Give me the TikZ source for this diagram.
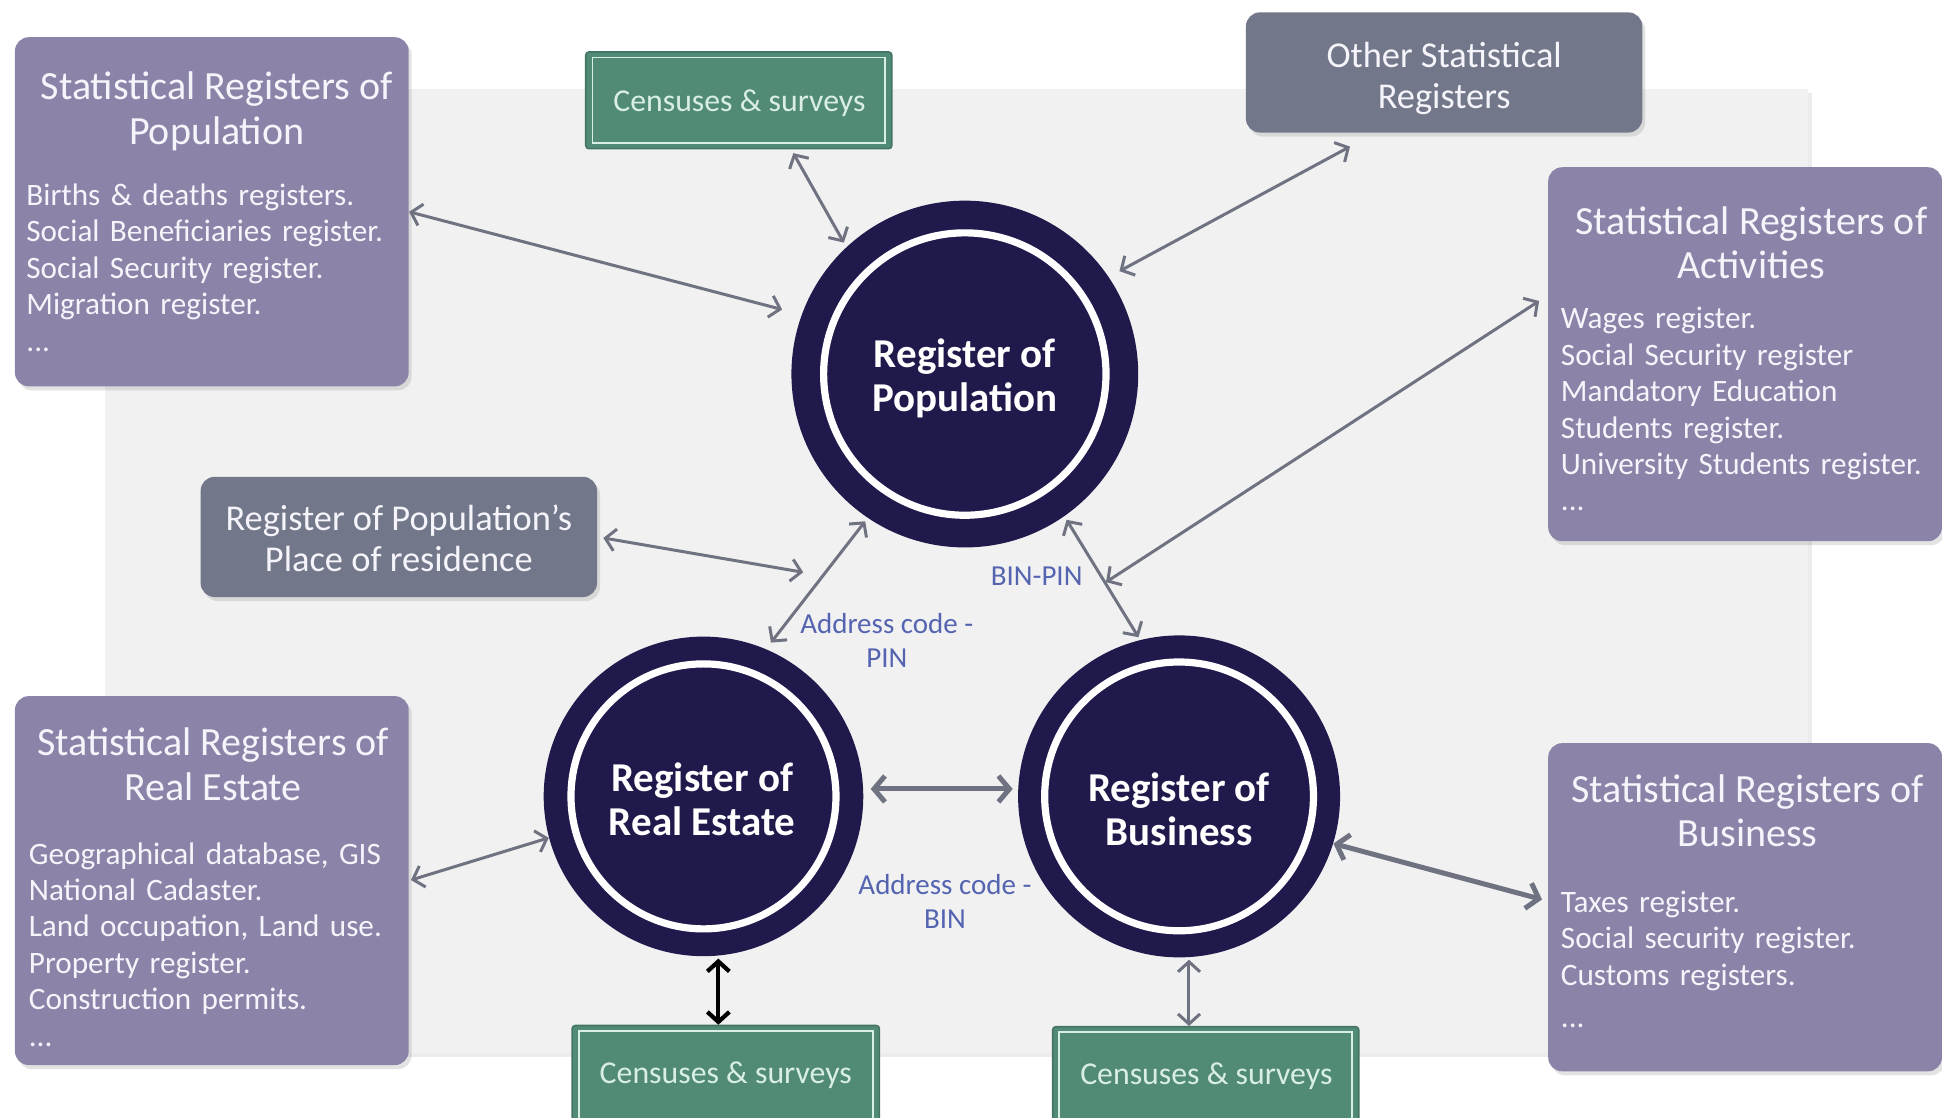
\documentclass[tikz,border=0pt]{standalone}
\usepackage{fontspec}
\setmainfont{Carlito}
\usetikzlibrary{arrows.meta,calc,shadows}
\definecolor{purp}{HTML}{8B83A8}
\definecolor{ptext}{HTML}{F6F4FB}
\definecolor{navy}{HTML}{1F1A4B}
\definecolor{cgreen}{HTML}{518B75}
\definecolor{cline}{HTML}{D9EEE4}
\definecolor{greyb}{HTML}{73778A}
\definecolor{agrey}{HTML}{6F7280}
\definecolor{lblue}{HTML}{5564B0}
\definecolor{panel}{HTML}{F1F1F2}
\begin{document}
\begin{tikzpicture}[x=0.6193pt,y=-0.6193pt,
  pbox/.style={rectangle, rounded corners=7pt, fill=purp, inner sep=0pt,
    drop shadow={opacity=0.22, shadow xshift=1.5pt, shadow yshift=-2pt}},
  gbox/.style={rectangle, rounded corners=7pt, fill=greyb, inner sep=0pt,
    drop shadow={opacity=0.22, shadow xshift=1.5pt, shadow yshift=-2pt}},
  cbox/.style={rectangle, rounded corners=1.5pt, fill=cgreen, draw=cgreen!85!black, line width=0.8pt, inner sep=0pt},
  cinner/.style={draw=cline, line width=0.9pt},
  regc/.style={circle, fill=navy, inner sep=0pt},
  ring/.style={circle, draw=white, line width=3.6pt, inner sep=0pt},
  ttl/.style={text=ptext, align=center, inner sep=0pt, font=\fontsize{20}{22.3}\selectfont},
  itm/.style={text=ptext, align=left, inner sep=0pt, text width=194pt, font=\fontsize{15.6}{18.2}\selectfont},
  gtxt/.style={text=ptext, align=center, inner sep=0pt, font=\fontsize{18.2}{20.5}\selectfont},
  ctxt/.style={text=cline, align=center, inner sep=0pt, font=\fontsize{15.9}{17}\selectfont},
  rtxt/.style={text=white, align=center, inner sep=0pt, font=\bfseries\fontsize{20.5}{22}\selectfont},
  lbl/.style={text=lblue, align=center, inner sep=1pt, font=\fontsize{14.5}{16.8}\selectfont},
  arr/.style={draw=agrey, line width=1.5pt, {Straight Barb[length=5pt,width=11pt]}-{Straight Barb[length=5pt,width=11pt]}},
  tarr/.style={draw=agrey, line width=2.5pt, {Straight Barb[length=5.5pt,width=13pt]}-{Straight Barb[length=5.5pt,width=13pt]}},
  barr/.style={draw=black, line width=2.1pt, {Straight Barb[length=5pt,width=11pt]}-{Straight Barb[length=5pt,width=11pt]}}
]
\useasboundingbox (0,0) rectangle (1568,902);
\fill[white] (0,0) rectangle (1568,902);
\fill[panel, drop shadow={opacity=0.15, shadow xshift=2pt, shadow yshift=-2pt}] (85,72) rectangle (1460,850);

% main registers
\node[regc, minimum size=173.4pt] (pop) at (779,302) {};
\node[ring, minimum size=141.2pt] (popring) at (pop) {};
\node[rtxt] (popt) at (779,305.5) {Register of\\Population};

\node[regc, minimum size=159.8pt] (re) at (568,643) {};
\node[ring, minimum size=132.5pt] (rering) at (re) {};
\node[rtxt] (ret) at (567,645.5) {Register of\\Real Estate};

\node[regc, minimum size=161pt] (bus) at (952,643) {};
\node[ring, minimum size=134.4pt] (busring) at (bus) {};
\node[rtxt] (bust) at (952,653.5) {Register of\\Business};

% purple boxes
\node[pbox, minimum width=196.9pt, minimum height=174.6pt] (srpop) at (171,171) {};
\node[ttl] (srpopt) at (175,90) {Statistical Registers of\\Population};
\node[itm, anchor=west] (srpopi) at (21,216) {Births \& deaths registers.\\Social Beneficiaries register.\\Social Security register.\\Migration register.\\...};

\node[pbox, minimum width=196.9pt, minimum height=187pt] (sract) at (1409,286) {};
\node[ttl] (sractt) at (1414,196) {Statistical Registers of\\Activities};
\node[itm, anchor=west] (sracti) at (1260,330.5) {Wages register.\\Social Security register\\Mandatory Education\\Students register.\\University Students register.\\...};

\node[pbox, minimum width=196.9pt, minimum height=184.5pt] (srre) at (171,711) {};
\node[ttl] (srret) at (172,617) {Statistical Registers of\\Real Estate};
\node[itm, anchor=west] (srrei) at (23,762.5) {Geographical database, GIS\\National Cadaster.\\Land occupation, Land use.\\Property register.\\Construction permits.\\...};

\node[pbox, minimum width=196.9pt, minimum height=164.1pt] (srbus) at (1409,732.5) {};
\node[ttl] (srbust) at (1411,654.5) {Statistical Registers of\\Business};
\node[itm, anchor=west] (srbusi) at (1260,774.5) {Taxes register.\\Social security register.\\Customs registers.\\[3pt]...};

% grey boxes
\node[gbox, minimum width=198.2pt, minimum height=60.1pt] (other) at (1166,58.5) {};
\node[gtxt] (othert) at (1166,63.5) {Other Statistical\\Registers};
\node[gbox, minimum width=198.2pt, minimum height=60.1pt] (place) at (322,433.5) {};
\node[gtxt] (placet) at (322,434.5) {Register of Population’s\\Place of residence};

% censuses
\node[cbox, minimum width=153pt, minimum height=48.3pt] (ct) at (596.5,81) {};
\draw[cinner] ([shift={(6,5)}]ct.north west) rectangle ([shift={(-6,-5)}]ct.south east);
\node[ctxt] (ctt) at (597,83) {Censuses \& surveys};
\node[cbox, minimum width=153.6pt, minimum height=52pt] (cbl) at (586,870) {};
\draw[cinner] ([shift={(6,5)}]cbl.north west) rectangle ([shift={(-6,-5)}]cbl.south east);
\node[ctxt] (cblt) at (586,868) {Censuses \& surveys};
\node[cbox, minimum width=153pt, minimum height=52pt] (cbr) at (973.5,871) {};
\draw[cinner] ([shift={(6,5)}]cbr.north west) rectangle ([shift={(-6,-5)}]cbr.south east);
\node[ctxt] (cbrt) at (974,869) {Censuses \& surveys};

% labels
\node[lbl] (binpin) at (837,465) {BIN-PIN};
\node[lbl] (adpin) at (716,517) {Address code -\\PIN};
\node[lbl] (adbin) at (763,728) {Address code -\\BIN};

% connectors
\draw[arr, shorten >=10pt] (srpop.east) -- (pop.160);
\draw[arr, shorten >=2.5pt] ($(ct.south)+(44,3)$) -- (pop.133);
\draw[arr, shorten >=6pt] ($(other.south)+(-76,11)$) -- (pop.34);
\draw[arr] ($(sract.west)+(-7,-43)$) -- ($(binpin)+(56,5)$);
\draw[arr, shorten <=2pt, shorten >=1.5pt] (pop.-55) -- (bus.104);
\draw[arr, shorten <=4pt, shorten >=2pt] (re.67) -- (pop.-124);
\coordinate (rp) at ($(re.67)!0.56!(pop.-124)$);
\draw[arr, shorten <=3pt, shorten >=10pt] (place.east) -- (rp);
\draw[arr, shorten <=1pt] (srre.east) -- (re.195);
\draw[tarr, shorten <=3.5pt, shorten >=2.5pt] ($(re.east)+(0,-6)$) -- ($(bus.west)+(0,-6)$);
\draw[tarr, shorten >=3pt] (bus.-17) -- ($(srbus.west)+(0,-5)$);
\draw[barr, shorten <=1pt] ($(re.south)+(12,0)$) -- ($(cbl.north)+(-6,0)$);
\draw[arr, shorten <=1pt] ($(bus.south)+(8,0)$) -- ($(cbr.north)+(-13.5,0)$);
\end{tikzpicture}
\end{document}
